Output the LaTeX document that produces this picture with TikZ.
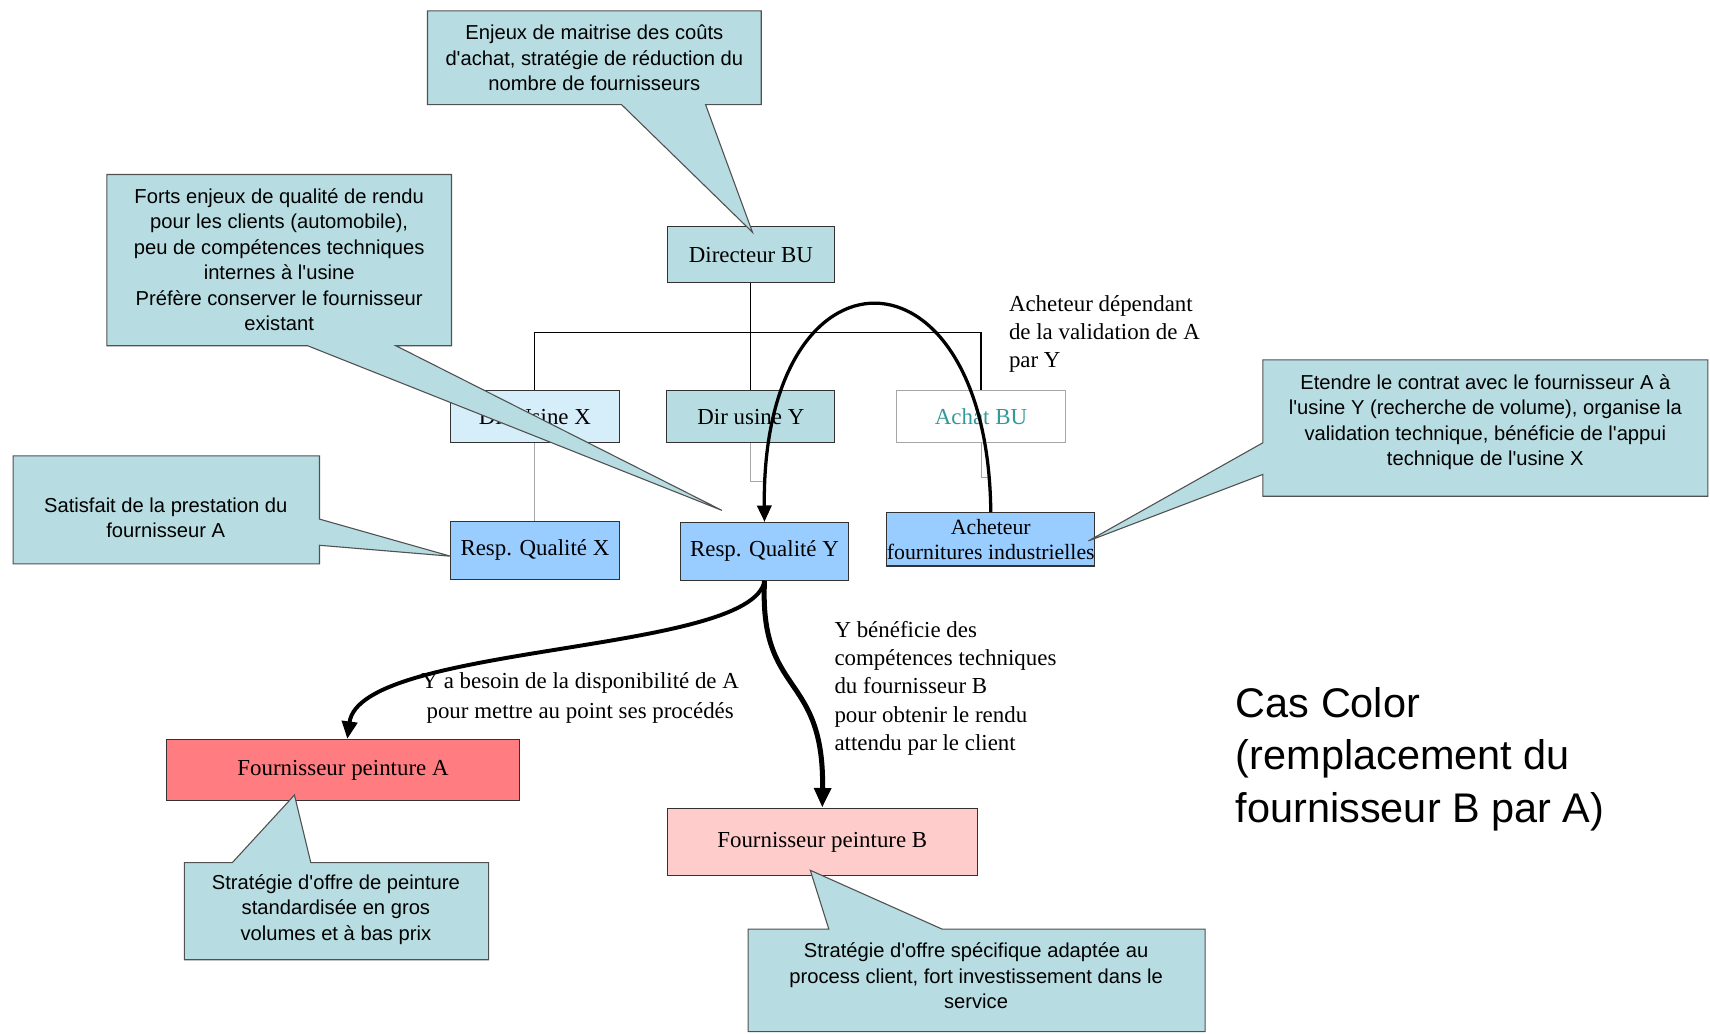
\documentclass[tikz,border=0pt]{standalone}
\usepackage{fontspec}
\setmainfont{Liberation Serif}
\newfontfamily\calfont{Liberation Sans}
\usetikzlibrary{arrows.meta}
\definecolor{calfill}{RGB}{183,221,226}
\definecolor{tealbox}{RGB}{183,221,226}
\definecolor{palebox}{RGB}{214,238,250}
\definecolor{qualbox}{RGB}{153,204,255}
\definecolor{redbox}{RGB}{255,124,128}
\definecolor{pinkbox}{RGB}{255,204,204}
\definecolor{achattext}{RGB}{51,153,153}
\definecolor{edgecol}{RGB}{50,50,50}
\tikzset{
 orgbox/.style={draw=edgecol, line width=1pt, inner sep=0pt, font=\fontsize{21}{25}\selectfont, align=center},
 callout/.style={draw=edgecol!85, fill=calfill, line width=1pt, line join=miter},
 caltext/.style={font=\calfont\fontsize{18.5}{23.3}\selectfont, align=center, inner sep=0pt},
 lbl/.style={font=\fontsize{21}{26}\selectfont, inner sep=0pt},
 orgline/.style={draw=black, line width=1pt},
 thinline/.style={draw=gray!70, line width=0.8pt},
 arcarrow/.style={line width=3pt, -{Triangle[length=15pt,width=13pt]}},
 arrowA/.style={line width=3.6pt, -{Triangle[length=16pt,width=14pt]}},
 arrowB/.style={line width=4.6pt, -{Triangle[length=18pt,width=15pt]}},
}
\begin{document}
\begin{tikzpicture}[x=1pt,y=-1pt]
\useasboundingbox (0,0) rectangle (1568,948);
\fill[white] (0,0) rectangle (1568,948);

% org chart boxes
\node[orgbox, fill=tealbox, minimum width=153pt, minimum height=51pt] (dbu) at (688.5,233.5) {Directeur BU};
\node[orgbox, fill=palebox, minimum width=155pt, minimum height=48pt] (dux) at (490.5,382) {Dir Usine X};
\node[orgbox, fill=tealbox, minimum width=154pt, minimum height=48pt] (duy) at (688.5,382) {Dir usine Y};
\node[orgbox, draw=gray!70, fill=white, text=achattext, minimum width=155pt, minimum height=48pt] (achat) at (899.5,382) {Achat BU};
\node[orgbox, fill=qualbox, minimum width=155pt, minimum height=53pt] (rqx) at (490.5,504.5) {Resp. Qualité X};
\node[orgbox, fill=qualbox, minimum width=154pt, minimum height=53pt] (rqy) at (701,505.5) {Resp. Qualité Y};
\node[orgbox, fill=qualbox, minimum width=183pt, minimum height=49pt, font=\fontsize{20}{23}\selectfont] (ach) at (908.5,494.5) {Acheteur\\fournitures industrielles};
\node[orgbox, fill=redbox, minimum width=323pt, minimum height=56pt] (fa) at (314.5,706) {Fournisseur peinture A};
\node[orgbox, fill=pinkbox, minimum width=284pt, minimum height=62pt] (fb) at (754,772) {Fournisseur peinture B};

% org lines
\coordinate (barL) at (490.5,305);
\coordinate (barR) at (899.5,305);
\draw[orgline] (dbu.south) -- (duy.north);
\draw[orgline] (dux.north) |- (barR) -- (achat.north);
\draw[thinline] (dux.south) -- (rqx.north);
\draw[thinline] (duy.south) -- ++(0,35) -| (rqy.north);
\draw[thinline] (achat.south) -- ++(0,31) -| (ach.north);

% callouts
\draw[callout] (392,10) -- (698,10) -- (698,96) -- (647,96) -- (690,213) -- (570,96) -- (392,96) -- cycle;
\node[caltext] (t1) at (545,53) {Enjeux de maitrise des coûts\\d'achat, stratégie de réduction du\\nombre de fournisseurs};

\draw[callout] (98,160) -- (414,160) -- (414,317) -- (363,317) -- (662,468) -- (282,317) -- (98,317) -- cycle;
\node[caltext] (t2) at (256,238) {Forts enjeux de qualité de rendu\\pour les clients (automobile),\\peu de compétences techniques\\internes à l'usine\\Préfère conserver le fournisseur\\existant};

\draw[callout] (12,418) -- (293,418) -- (293,476) -- (413,510) -- (293,500) -- (293,517) -- (12,517) -- cycle;
\node[caltext] (t3) at (152,475) {Satisfait de la prestation du\\fournisseur A};

\draw[callout] (1158,330) -- (1566,330) -- (1566,455) -- (1158,455) -- (1158,435) -- (998,496) -- (1158,406) -- cycle;
\node[caltext] (t4) at (1362,387) {Etendre le contrat avec le fournisseur A à\\l'usine Y (recherche de volume), organise la\\validation technique, bénéficie de l'appui\\technique de l'usine X};

\draw[callout] (169,791) -- (213,791) -- (270,729) -- (285,791) -- (448,791) -- (448,880) -- (169,880) -- cycle;
\node[caltext] (t5) at (308,834) {Stratégie d'offre de peinture\\standardisée en gros\\volumes et à bas prix};

\draw[callout] (686,852) -- (760,852) -- (743,798) -- (864,852) -- (1105,852) -- (1105,946) -- (686,946) -- cycle;
\node[caltext] (t6) at (895,895) {Stratégie d'offre spécifique adaptée au\\process client, fort investissement dans le\\service};

% labels
\node[lbl, anchor=west, align=left, font=\fontsize{21}{25.5}\selectfont] (l1) at (925,306) {Acheteur dépendant\\de la validation de A\\par Y};
\node[lbl, align=center, font=\fontsize{21}{27}\selectfont] (l2) at (532,640) {Y a besoin de la disponibilité de A\\pour mettre au point ses procédés};
\node[lbl, anchor=west, align=left] (l3) at (765,631) {Y bénéficie des\\compétences techniques\\du fournisseur B\\pour obtenir le rendu\\attendu par le client};
\node[anchor=west, align=left, inner sep=0pt, font=\calfont\fontsize{38}{48}\selectfont] (l4) at (1133,696) {Cas Color\\(remplacement du\\fournisseur B par A)};

% arrows
\draw[arcarrow] (ach.north) .. controls (906,215) and (698,215) .. (rqy.north);
\draw[arrowA] (rqy.south) .. controls (690,600) and (330,590) .. ([xshift=4pt]fa.north);
\draw[arrowB] (rqy.south) .. controls (696,640) and (756,615) .. (fb.north);
\end{tikzpicture}
\end{document}
